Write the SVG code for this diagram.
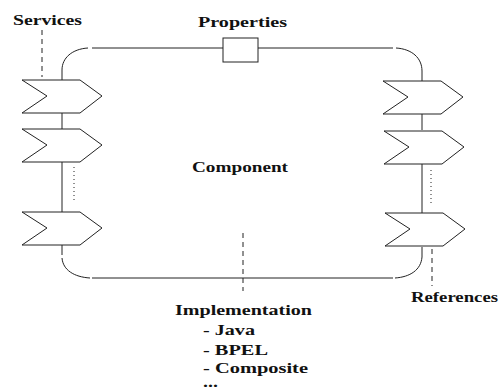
<svg xmlns="http://www.w3.org/2000/svg" xmlns:xlink="http://www.w3.org/1999/xlink" width="502" height="387" viewBox="0 0 502 387">
  <style>
    .ln { fill: none; stroke: #222; stroke-width: 1; }
    .dash { fill: none; stroke: #222; stroke-width: 1; stroke-dasharray: 5 4; }
    .dot { fill: none; stroke: #222; stroke-width: 1; stroke-dasharray: 1 3; }
    .shape { fill: #fff; stroke: #222; stroke-width: 1; }
    .lbl { font-family: "Liberation Serif", "DejaVu Serif", serif; font-weight: bold; font-size: 14.5px; fill: #111; }
  </style>
  <defs>
    <polygon id="chev" class="shape" points="0,0 58,0 80,16 58,33 0,33 25,16"/>
  </defs>

  <!-- component outline and wiring -->
  <g id="connectors">
    <path class="ln" d="M92,48 H223 M258,48 H393"/>
    <path class="ln" d="M62,70 C62,58 72,49 88,48"/>
    <path class="ln" d="M396,48 C412,49 422,58 422,71"/>
    <path class="ln" d="M92,278 H393"/>
    <path class="ln" d="M62,258 C63,270 74,277 90,278"/>
    <path class="ln" d="M422,257 C421,270 410,277 395,278"/>
    <path class="ln" d="M62,70 V80 M62,113 V129 M62,162 V212 M62,245 V255"/>
    <path class="ln" d="M422,71 V81 M422,114 V130 M422,164 V213 M422,247 V257"/>
    <path class="dot" d="M74,167 V203"/>
    <path class="dot" d="M431,170 V206"/>
    <path class="dash" d="M42,30 V77"/>
    <path class="dash" d="M432,249 V286"/>
    <path class="dash" d="M243,233 V291"/>
  </g>

  <g id="services">
    <use xlink:href="#chev" x="22" y="80"/>
    <use xlink:href="#chev" x="22" y="129"/>
    <use xlink:href="#chev" x="22" y="212"/>
    <text class="lbl" x="13" y="25" textLength="69" lengthAdjust="spacingAndGlyphs">Services</text>
  </g>

  <g id="references">
    <use xlink:href="#chev" x="383" y="81"/>
    <use xlink:href="#chev" x="384" y="131"/>
    <use xlink:href="#chev" x="385" y="213"/>
    <text class="lbl" x="411" y="302" textLength="87" lengthAdjust="spacingAndGlyphs">References</text>
  </g>

  <g id="properties">
    <rect class="shape" x="223" y="38" width="35" height="24"/>
    <text class="lbl" x="198" y="27" textLength="89" lengthAdjust="spacingAndGlyphs">Properties</text>
  </g>

  <g id="component">
    <text class="lbl" x="192" y="172" textLength="96" lengthAdjust="spacingAndGlyphs">Component</text>
  </g>

  <g id="implementation">
    <text class="lbl" x="175" y="315" textLength="137" lengthAdjust="spacingAndGlyphs">Implementation</text>
    <text class="lbl" x="203" y="335" textLength="52" lengthAdjust="spacingAndGlyphs">- Java</text>
    <text class="lbl" x="203" y="355" textLength="65" lengthAdjust="spacingAndGlyphs">- BPEL</text>
    <text class="lbl" x="203" y="373" textLength="105" lengthAdjust="spacingAndGlyphs">- Composite</text>
    <text class="lbl" x="203" y="387" textLength="15" lengthAdjust="spacingAndGlyphs">...</text>
  </g>
</svg>
